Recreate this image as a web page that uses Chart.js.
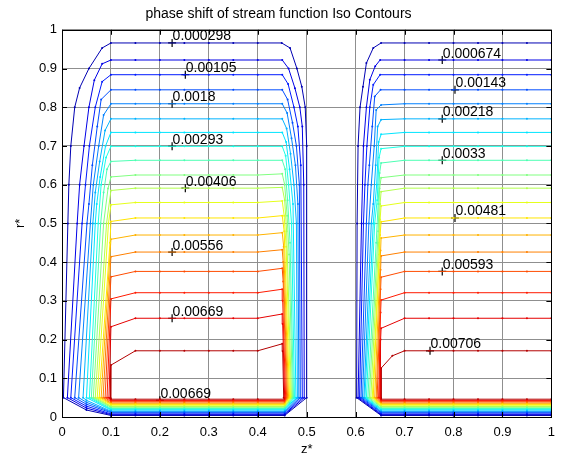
<!DOCTYPE html>
<html>
<head>
<meta charset="utf-8">
<title>phase shift of stream function Iso Contours</title>
<script src="https://cdn.jsdelivr.net/npm/chart.js@4.4.0/dist/chart.umd.min.js"></script>
<style>
    html, body { margin: 0; padding: 0; background: #fff; }
</style>
</head>
<body>
<canvas id="iso-contours" width="563" height="459"></canvas>
<script>
// axis tick labels (0 .. 1 step 0.1 on both axes)
const tickLabels = ['0', '0.1', '0.2', '0.3', '0.4', '0.5', '0.6', '0.7', '0.8', '0.9', '1'];

// contour levels of the phase shift, outermost (blue) to innermost (red)
const levels = [0.000298, 0.000674, 0.00105, 0.00143, 0.0018, 0.00218, 0.00255, 0.00293, 0.0033, 0.00368,
                0.00406, 0.00443, 0.00481, 0.00518, 0.00556, 0.00593, 0.00631, 0.00669, 0.00706];

// r* of the flat top of each contour
const plateauY = [0.966, 0.922, 0.884, 0.845, 0.809, 0.770, 0.735, 0.699, 0.663, 0.625,
                  0.591, 0.554, 0.514, 0.470, 0.426, 0.376, 0.321, 0.255, 0.171];
// r* of each contour inside the thin layer along the wall
const bandY = [0.004, 0.006, 0.008, 0.011, 0.013, 0.015, 0.018, 0.020, 0.022, 0.025,
               0.027, 0.029, 0.032, 0.034, 0.036, 0.039, 0.041, 0.043, 0.046];
// outer contours turn at z* = 0.05 on their way into the wall layer
const fanMidY = [0.018, 0.023, 0.028, 0.033, 0.038, 0.043];

// mesh nodes along the flat parts
const meshLeft = [0.15, 0.2, 0.25, 0.3, 0.35, 0.4];
const meshRight = [0.7, 0.75, 0.8, 0.85, 0.9, 0.95, 1];

// first cell, side near z* = 0 : [z*, r*] from the top corner down to r* = 0.05
const westWall = [
    [[0.1, 0.966], [0.082, 0.953], [0.055, 0.9], [0.036, 0.85], [0.026, 0.8], [0.018, 0.7], [0.014, 0.6], [0.012, 0.5], [0.003, 0.05]],
    [[0.1, 0.922], [0.082, 0.912], [0.066, 0.87], [0.055, 0.8], [0.045, 0.7], [0.036, 0.6], [0.031, 0.5], [0.011, 0.05]],
    [[0.1, 0.884], [0.082, 0.866], [0.068, 0.8], [0.056, 0.7], [0.048, 0.6], [0.041, 0.5], [0.018, 0.05]],
    [[0.1, 0.845], [0.08, 0.82], [0.072, 0.75], [0.062, 0.65], [0.055, 0.55], [0.051, 0.5], [0.026, 0.05]],
    [[0.1, 0.809], [0.085, 0.78], [0.075, 0.7], [0.064, 0.6], [0.058, 0.5], [0.034, 0.05]],
    [[0.1, 0.77], [0.088, 0.74], [0.077, 0.66], [0.068, 0.58], [0.063, 0.5], [0.043, 0.05]],
    [[0.1, 0.735], [0.089, 0.7], [0.078, 0.62], [0.071, 0.55], [0.068, 0.5], [0.05, 0.05]],
    [[0.1, 0.699], [0.09, 0.67], [0.08, 0.6], [0.074, 0.5], [0.056, 0.05]],
    [[0.1, 0.66], [0.092, 0.64], [0.085, 0.58], [0.079, 0.5], [0.06, 0.05]],
    [[0.1, 0.62], [0.094, 0.59], [0.085, 0.5], [0.064, 0.05]],
    [[0.1, 0.585], [0.091, 0.5], [0.068, 0.05]],
    [[0.1, 0.548], [0.095, 0.5], [0.072, 0.05]],
    [[0.1, 0.505], [0.098, 0.45], [0.076, 0.05]],
    [[0.1, 0.459], [0.08, 0.05]],
    [[0.1, 0.414], [0.084, 0.05]],
    [[0.1, 0.362], [0.088, 0.05]],
    [[0.1, 0.305], [0.092, 0.05]],
    [[0.1, 0.233], [0.096, 0.05]],
    [[0.1, 0.134], [0.099, 0.05]]
];

// first cell, side near z* = 0.5
const eastWall = [
    [[0.449, 0.966], [0.466, 0.953], [0.48, 0.9], [0.49, 0.853], [0.497, 0.8], [0.5, 0.7], [0.5, 0.05]],
    [[0.45, 0.922], [0.463, 0.9], [0.476, 0.849], [0.486, 0.8], [0.491, 0.75], [0.494, 0.6], [0.495, 0.05]],
    [[0.45, 0.884], [0.462, 0.86], [0.474, 0.8], [0.482, 0.75], [0.488, 0.65], [0.491, 0.05]],
    [[0.45, 0.845], [0.461, 0.82], [0.471, 0.76], [0.479, 0.7], [0.485, 0.6], [0.487, 0.05]],
    [[0.45, 0.809], [0.46, 0.785], [0.469, 0.72], [0.477, 0.65], [0.482, 0.55], [0.484, 0.05]],
    [[0.45, 0.77], [0.459, 0.745], [0.467, 0.68], [0.474, 0.6], [0.479, 0.5], [0.481, 0.05]],
    [[0.45, 0.735], [0.458, 0.71], [0.465, 0.64], [0.472, 0.55], [0.478, 0.05]],
    [[0.45, 0.699], [0.457, 0.675], [0.463, 0.6], [0.469, 0.5], [0.475, 0.05]],
    [[0.45, 0.663], [0.456, 0.64], [0.461, 0.56], [0.466, 0.45], [0.473, 0.05]],
    [[0.45, 0.628], [0.455, 0.6], [0.46, 0.52], [0.464, 0.42], [0.471, 0.05]],
    [[0.45, 0.593], [0.455, 0.56], [0.459, 0.48], [0.469, 0.05]],
    [[0.45, 0.558], [0.454, 0.52], [0.458, 0.44], [0.467, 0.05]],
    [[0.45, 0.52], [0.454, 0.48], [0.465, 0.05]],
    [[0.45, 0.476], [0.453, 0.44], [0.463, 0.05]],
    [[0.45, 0.432], [0.452, 0.4], [0.461, 0.05]],
    [[0.45, 0.384], [0.452, 0.35], [0.459, 0.05]],
    [[0.45, 0.33], [0.451, 0.3], [0.457, 0.05]],
    [[0.45, 0.266], [0.451, 0.24], [0.455, 0.05]],
    [[0.45, 0.189], [0.451, 0.17], [0.453, 0.05]]
];

// second cell, side near z* = 0.6 (the contours leave through z* = 1)
const rightWall = [
    [[0.652, 0.966], [0.636, 0.953], [0.622, 0.914], [0.615, 0.853], [0.609, 0.8], [0.605, 0.7], [0.603, 0.5], [0.602, 0.05]],
    [[0.65, 0.922], [0.64, 0.906], [0.629, 0.871], [0.622, 0.8], [0.616, 0.7], [0.612, 0.5], [0.605, 0.05]],
    [[0.65, 0.884], [0.636, 0.858], [0.629, 0.8], [0.623, 0.7], [0.619, 0.6], [0.616, 0.5], [0.608, 0.05]],
    [[0.651, 0.845], [0.639, 0.828], [0.634, 0.75], [0.628, 0.65], [0.625, 0.6], [0.622, 0.5], [0.611, 0.05]],
    [[0.652, 0.806], [0.642, 0.793], [0.638, 0.7], [0.632, 0.6], [0.627, 0.5], [0.614, 0.05]],
    [[0.652, 0.768], [0.645, 0.75], [0.641, 0.65], [0.636, 0.55], [0.632, 0.5], [0.617, 0.05]],
    [[0.652, 0.73], [0.647, 0.71], [0.643, 0.6], [0.636, 0.5], [0.619, 0.05]],
    [[0.652, 0.693], [0.648, 0.67], [0.644, 0.56], [0.639, 0.5], [0.622, 0.05]],
    [[0.652, 0.656], [0.649, 0.63], [0.646, 0.55], [0.642, 0.45], [0.625, 0.05]],
    [[0.652, 0.618], [0.649, 0.59], [0.646, 0.48], [0.628, 0.05]],
    [[0.652, 0.582], [0.65, 0.55], [0.647, 0.45], [0.631, 0.05]],
    [[0.652, 0.545], [0.65, 0.51], [0.648, 0.42], [0.634, 0.05]],
    [[0.652, 0.504], [0.65, 0.47], [0.636, 0.05]],
    [[0.652, 0.462], [0.651, 0.43], [0.639, 0.05]],
    [[0.652, 0.416], [0.651, 0.38], [0.642, 0.05]],
    [[0.652, 0.361], [0.651, 0.33], [0.644, 0.05]],
    [[0.652, 0.302], [0.651, 0.27], [0.647, 0.05]],
    [[0.652, 0.229], [0.651, 0.2], [0.65, 0.05]],
    [[0.675, 0.158], [0.652, 0.126], [0.652, 0.05]]
];

// clabel positions: which level, where along z*, and whether it sits in the wall layer
const labelLevel = [0, 2, 4, 7, 10, 14, 17, 17, 1, 3, 5, 8, 12, 15, 18];
const labelX = [0.225, 0.252, 0.225, 0.225, 0.252, 0.225, 0.225, 0.2, 0.777, 0.803, 0.777, 0.777, 0.803, 0.777, 0.752];
const labelOnBand = [false, false, false, false, false, false, false, true, false, false, false, false, false, false, false];

const FONT = "'Liberation Sans', Arial, Helvetica, sans-serif";

// matlab jet colormap
function jet(t) {
    const c = v => Math.round(255 * Math.min(1, Math.max(0, v)));
    return `rgb(${c(1.5 - Math.abs(4 * t - 3))},${c(1.5 - Math.abs(4 * t - 2))},${c(1.5 - Math.abs(4 * t - 1))})`;
}

const pt = p => ({ x: p[0], y: p[1] });

// closed loop in the first cell
function firstCell(k) {
    const pts = [{ x: 0.1, y: bandY[k] }];
    meshLeft.forEach(x => pts.push({ x, y: bandY[k] }));
    pts.push({ x: 0.455, y: bandY[k] });
    eastWall[k].slice().reverse().forEach(p => pts.push(pt(p)));
    meshLeft.slice().reverse().forEach(x => pts.push({ x, y: plateauY[k] }));
    westWall[k].forEach(p => pts.push(pt(p)));
    if (k < fanMidY.length) pts.push({ x: 0.05, y: fanMidY[k] });
    pts.push({ x: 0.1, y: bandY[k] });
    return pts;
}

// open contour in the second cell
function secondCell(k) {
    const pts = [];
    meshRight.slice().reverse().forEach(x => pts.push({ x, y: plateauY[k] }));
    rightWall[k].forEach(p => pts.push(pt(p)));
    pts.push({ x: 0.652, y: bandY[k] });
    meshRight.forEach(x => pts.push({ x, y: bandY[k] }));
    return pts;
}

const datasets = [];
levels.forEach((lv, k) => {
    const color = jet((k + 1) / (levels.length + 1));
    [firstCell(k), secondCell(k)].forEach(data => {
        datasets.push({
            data: data,
            borderColor: color,
            borderWidth: 1,
            pointRadius: 1,
            pointBorderWidth: 0,
            pointBackgroundColor: color,
            tension: 0,
            fill: false
        });
    });
});

const labelPoints = labelLevel.map((k, i) => ({
    x: labelX[i],
    y: labelOnBand[i] ? bandY[k] : plateauY[k]
}));

datasets.push({
    data: labelPoints,
    showLine: false,
    pointStyle: 'cross',
    pointRadius: 4,
    borderColor: '#000',
    borderWidth: 1.2
});

// box, inward tick marks and the contour labels
const matlabAxes = {
    id: 'matlabAxes',
    afterDatasetsDraw(chart) {
        const { ctx, chartArea: a, scales: { x, y } } = chart;
        ctx.save();
        ctx.strokeStyle = '#000';
        ctx.lineWidth = 1;
        ctx.beginPath();
        x.ticks.forEach(t => {
            const px = Math.round(x.getPixelForValue(t.value)) + 0.5;
            ctx.moveTo(px, a.bottom); ctx.lineTo(px, a.bottom - 5);
            ctx.moveTo(px, a.top); ctx.lineTo(px, a.top + 5);
        });
        y.ticks.forEach(t => {
            const py = Math.round(y.getPixelForValue(t.value)) + 0.5;
            ctx.moveTo(a.left, py); ctx.lineTo(a.left + 5, py);
            ctx.moveTo(a.right, py); ctx.lineTo(a.right - 5, py);
        });
        ctx.stroke();
        ctx.strokeRect(Math.round(a.left) + 0.5, Math.round(a.top) + 0.5,
                       Math.round(a.right - a.left), Math.round(a.bottom - a.top));

        ctx.fillStyle = '#000';
        ctx.font = `14px ${FONT}`;
        ctx.textBaseline = 'alphabetic';
        ctx.textAlign = 'left';
        labelPoints.forEach((p, i) => {
            const px = x.getPixelForValue(p.x);
            const py = y.getPixelForValue(p.y);
            ctx.fillText(String(levels[labelLevel[i]]), px + 0.5, py - 2.5);
        });
        ctx.restore();
    }
};

Chart.defaults.font.family = FONT;
Chart.defaults.color = '#000';

new Chart(document.getElementById('iso-contours'), {
    type: 'line',
    data: { datasets: datasets },
    options: {
        responsive: false,
        animation: false,
        events: [],
        layout: { padding: { left: 0, right: 6, top: 0, bottom: 0 } },
        plugins: {
            legend: { display: false },
            tooltip: { enabled: false },
            title: {
                display: true,
                text: 'phase shift of stream function Iso Contours',
                font: { size: 14, weight: 'normal' },
                color: '#000',
                padding: { top: 6, bottom: 7 }
            }
        },
        scales: {
            x: {
                type: 'linear',
                min: 0,
                max: 1,
                ticks: {
                    stepSize: 0.1,
                    padding: 8,
                    font: { size: 13 },
                    maxRotation: 0,
                    callback: (v, i) => tickLabels[i]
                },
                grid: { color: '#8f8f8f', lineWidth: 1, drawTicks: false },
                border: { display: false },
                title: { display: true, text: 'z*', font: { size: 13 }, padding: { top: 0, bottom: 2 } },
                afterFit: s => { s.height = 42; }
            },
            y: {
                type: 'linear',
                min: 0,
                max: 1,
                ticks: {
                    stepSize: 0.1,
                    padding: 5,
                    font: { size: 13 },
                    callback: (v, i) => tickLabels[i]
                },
                grid: { color: '#8f8f8f', lineWidth: 1, drawTicks: false },
                border: { display: false },
                title: { display: true, text: 'r*', font: { size: 13 }, padding: { top: 13, bottom: 0 } },
                afterFit: s => { s.width = 62; }
            }
        }
    },
    plugins: [matlabAxes]
});
</script>
</body>
</html>
